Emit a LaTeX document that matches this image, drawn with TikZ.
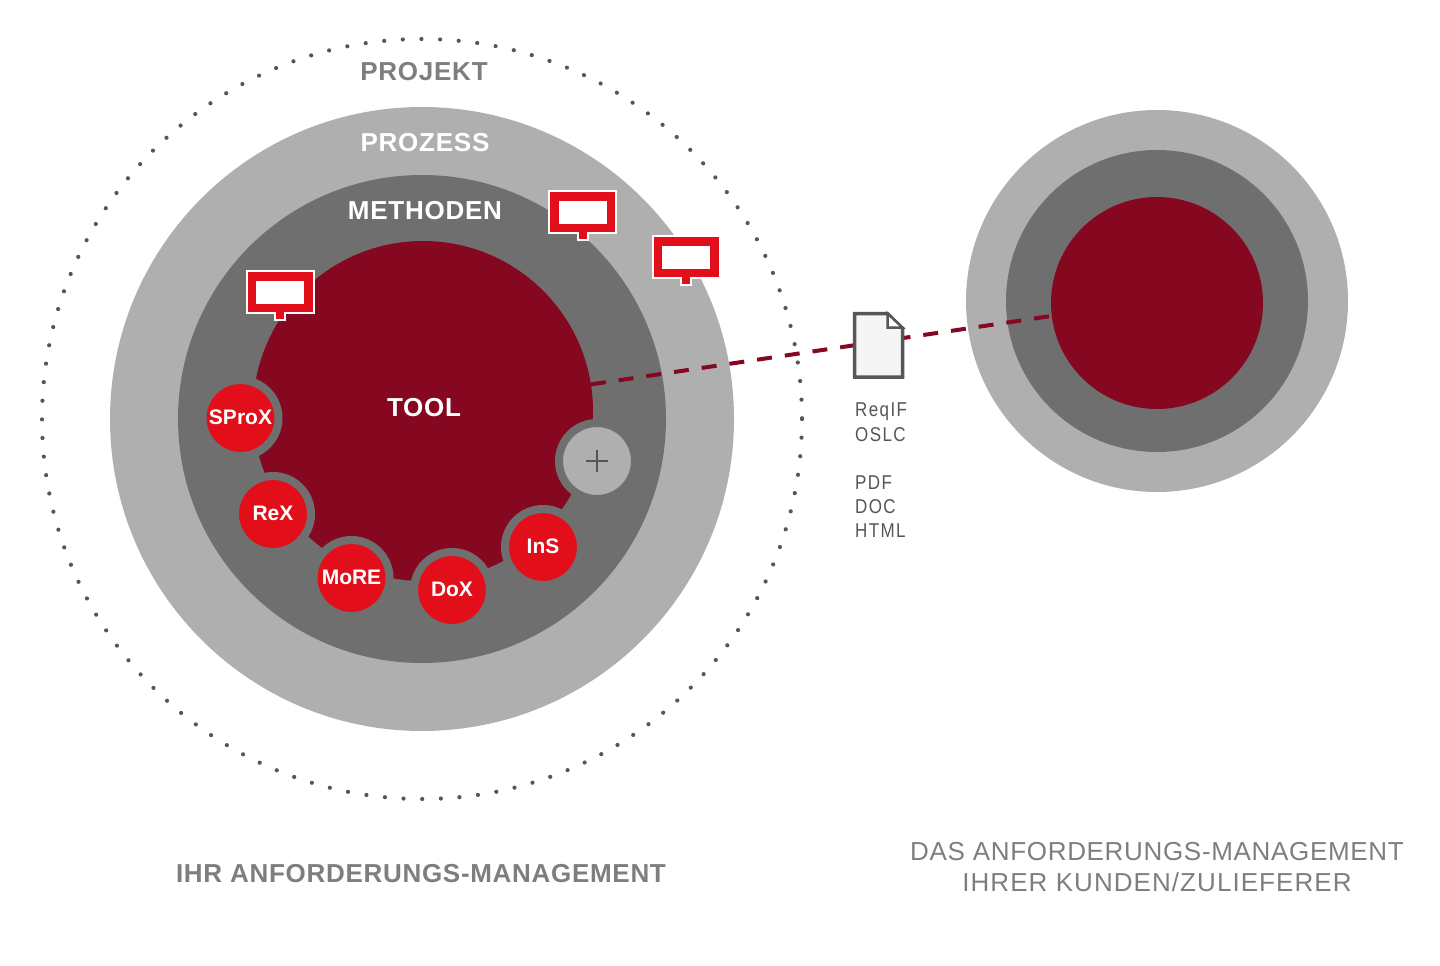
\documentclass[tikz,border=0pt]{standalone}
\usepackage{fontspec}
\setmainfont{Liberation Sans}
\newfontfamily\lab[LetterSpace=7,FakeStretch=0.85]{Liberation Sans}
\newfontfamily\labb[LetterSpace=2.9]{Liberation Sans}
\newfontfamily\labc[LetterSpace=2.6]{Liberation Sans}
\newfontfamily\labd[LetterSpace=4.1]{Liberation Sans}
\newfontfamily\labe[LetterSpace=2.7]{Liberation Sans}
\newcommand{\modt}[1]{\raisebox{1pt}{#1}}
\definecolor{cLight}{HTML}{AFAFAF}
\definecolor{cDark}{HTML}{6F6F6F}
\definecolor{cWine}{HTML}{860820}
\definecolor{cRed}{HTML}{E20E1A}
\definecolor{cText}{HTML}{7E7E7E}
\definecolor{cDoc}{HTML}{565656}
\tikzset{
  disc/.style={circle,inner sep=0pt,outer sep=0pt},
  module/.style={circle,inner sep=0pt,fill=cRed,draw=cDark,line width=8pt,minimum size=76pt,text=white,font=\fontsize{21}{21}\selectfont\bfseries},
  ringlabel/.style={text=white,inner sep=0pt,font=\fontsize{26}{26}\selectfont\labb\bfseries},
  caption/.style={text=cText,inner sep=0pt,align=center},
  formats/.style={text=cDoc,inner sep=0pt,font=\fontsize{20}{24.2}\selectfont\lab},
  callout/.pic={
    \draw[white,fill=cRed,line width=2pt,line join=miter]
      (-33.5,0) -- (33.5,0) -- (33.5,42) -- (5,42) -- (5,48.5) -- (-5,48.5) -- (-5,42) -- (-33.5,42) -- cycle;
    \fill[white] (-24,9.5) rectangle (24,32.5);
  }
}
\begin{document}
\begin{tikzpicture}[x=1pt,y=-1pt]
\useasboundingbox (0,0) rectangle (1440,966);
\node[disc,minimum size=760pt] (projekt) at (422,419) {};
\draw[cDoc,line width=4.2pt,line cap=round,dash pattern=on 0pt off 18.65pt] (422,419) circle (380);
\node[disc,fill=cLight,minimum size=624pt] (prozess) at (422,419) {};
\node[disc,fill=cDark,minimum size=488pt] (methoden) at (422,419) {};
\node[disc,fill=cWine,minimum size=340pt] (tool) at (423,411) {};
\node[disc,fill=cLight,minimum size=382pt] (prozessB) at (1157,301) {};
\node[disc,fill=cDark,minimum size=302pt] (methodenB) at (1157,301) {};
\node[disc,fill=cWine,minimum size=212pt] (toolB) at (1157,303) {};
\draw[cWine,line width=4pt,dash pattern=on 15pt off 13pt] (tool.9.2) -- (toolB.187.6);
\node[ringlabel,text=cText] (lprojekt) at (424,72) {PROJEKT};
\node[ringlabel] (lprozess) at (425,143) {PROZESS};
\node[ringlabel] (lmethoden) at (425,211) {METHODEN};
\node[ringlabel] (ltool) at (424,407.5) {TOOL};
\node[module] (sprox) at (240.5,418) {\modt{SProX}};
\node[module] (rex) at (273,514) {\modt{ReX}};
\node[module] (more) at (351.5,578) {\modt{MoRE}};
\node[module] (dox) at (452,590) {\modt{DoX}};
\node[module] (ins) at (543,547) {\raisebox{2pt}{InS}};
\node[module,fill=cLight] (plus) at (597,461) {};
\draw[cDoc,line width=2pt] ([xshift=-11pt]plus.center) -- ([xshift=11pt]plus.center);
\draw[cDoc,line width=2pt] ([yshift=-11pt]plus.center) -- ([yshift=11pt]plus.center);
\pic at (582.5,191) {callout};
\pic at (686,236) {callout};
\pic at (280,271) {callout};
\draw[cDoc,fill=white!96!black,line width=3.5pt,line join=miter] (854.5,313.5) -- (887.5,313.5) -- (902.5,328.5) -- (902.5,377) -- (854.5,377) -- cycle;
\draw[cDoc,fill=white,line width=2.5pt,line join=miter] (887.5,313.5) -- (887.5,327.5) -- (902.5,327.5) -- cycle;
\node[formats,anchor=north west,align=left] (fmt) at (855,403) {ReqIF\\OSLC\\[24.2pt]PDF\\DOC\\HTML};
\node[caption,font=\fontsize{26}{26}\selectfont\labe\bfseries] (capL) at (421,874) {IHR ANFORDERUNGS-MANAGEMENT};
\node[caption,font=\fontsize{26}{31}\selectfont] (capR) at (1157,867) {{\labc DAS ANFORDERUNGS-MANAGEMENT}\\{\labd IHRER KUNDEN/ZULIEFERER}};
\end{tikzpicture}
\end{document}
